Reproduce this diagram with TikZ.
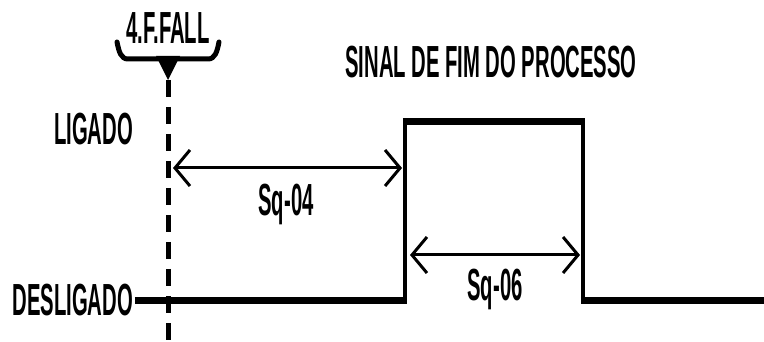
\documentclass[tikz,border=0pt]{standalone}
\usepackage{fontspec}
\newfontfamily\lab{Liberation Sans}[FakeStretch=0.45]
\usetikzlibrary{arrows.meta}
\tikzset{
  lbl/.style={font={\lab\bfseries\fontsize{45pt}{47pt}\selectfont}, inner sep=0pt, text=black},
  sig/.style={line width=7pt, line cap=butt, shorten <=-2.2pt, shorten >=-2.2pt},
  edgeline/.style={line width=4.5pt, line join=miter},
  dim/.style={line width=3pt, {Straight Barb[length=15pt,width=36pt,line width=3pt]}-{Straight Barb[length=15pt,width=36pt,line width=3pt]}},
  bracel/.style={line width=5pt, line cap=round},
  dashline/.style={line width=5pt, dash pattern=on 17pt off 10pt}
}
\begin{document}
\begin{tikzpicture}[x=1pt,y=-1pt]
\useasboundingbox (0,0) rectangle (764,342);
\fill[white] (0,0) rectangle (764,342);
% labels
\node[lbl,anchor=base] (fall) at (168,44) {4.F.FALL};
\node[lbl,anchor=base] (title) at (491,78) {SINAL DE FIM DO PROCESSO};
\node[lbl,anchor=base east] (lig) at (133,145) {LIGADO};
\node[lbl,anchor=base east] (desl) at (133,316) {DESLIGADO};
\node[lbl,anchor=base] (sq4) at (286,215) {Sq-04};
\node[lbl,anchor=base] (sq6) at (495,300) {Sq-06};
% marker brace
\coordinate (bl) at (117,42);
\coordinate (br) at (219,42);
\coordinate (tip) at (168,80);
\coordinate (dend) at (168,342);
\draw[bracel] (bl) .. controls (119,52) and (121,59) .. (128,59) -- (208,59) .. controls (215,59) and (217,52) .. (br);
\fill (156,56) -- (180,56) -- (tip) -- cycle;
\draw[dashline] (tip) -- (dend);
% signal
\coordinate (s0) at (137,300);
\coordinate (r0) at (405,300);
\coordinate (r1) at (405,122);
\coordinate (f1) at (583,122);
\coordinate (f0) at (583,300);
\coordinate (s1) at (764,300);
\draw[edgeline] (r0) -- (r1);
\draw[edgeline] (f1) -- (f0);
\draw[sig] (s0) -- (r0);
\draw[sig] (r1) -- (f1);
\draw[sig] (f0) -- (s1);
% dimension arrows
\coordinate (a4l) at (173,168);
\coordinate (a4r) at (402,168);
\coordinate (a6l) at (410,255);
\coordinate (a6r) at (580,255);
\draw[dim] (a4l) -- (a4r);
\draw[dim] (a6l) -- (a6r);
\end{tikzpicture}
\end{document}
